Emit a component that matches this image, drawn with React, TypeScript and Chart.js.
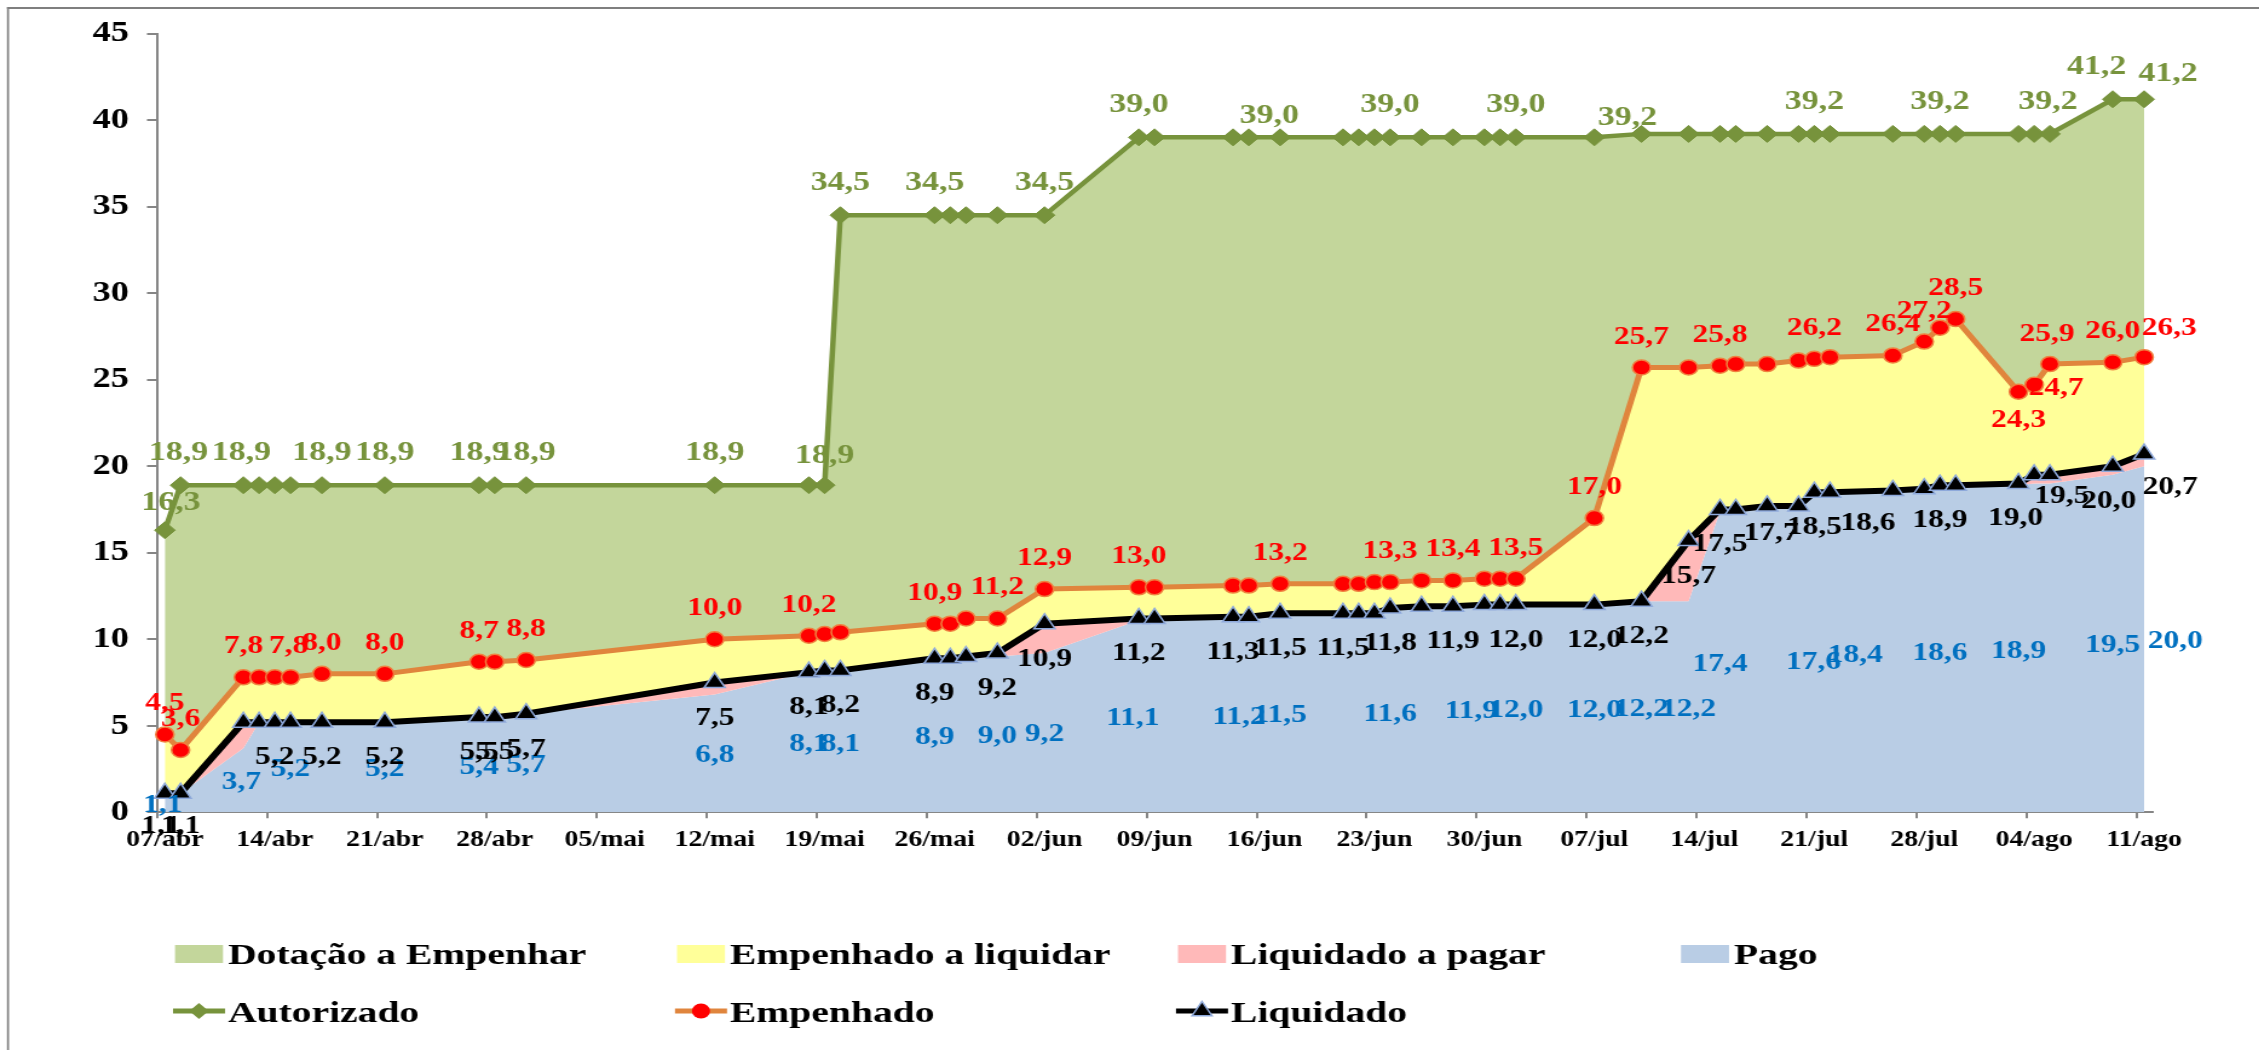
import React, { useEffect, useRef } from 'react';
import { Chart, registerables } from 'chart.js';

Chart.register(...registerables);

// ---------- data ----------
const DATES = ['07/04','08/04','12/04','13/04','14/04','15/04','17/04','21/04','27/04','28/04','30/04',
  '12/05','18/05','19/05','20/05','26/05','27/05','28/05','30/05','02/06',
  '08/06','09/06','14/06','15/06','17/06','21/06','22/06','23/06','24/06','26/06','28/06','30/06','01/07','02/07','07/07',
  '10/07','13/07','15/07','16/07','18/07','20/07','21/07','22/07','26/07','28/07','29/07','30/07','03/08','04/08','05/08','09/08','11/08'];

const TICK_LABELS = ['07/abr','14/abr','21/abr','28/abr','05/mai','12/mai','19/mai','26/mai','02/jun','09/jun',
  '16/jun','23/jun','30/jun','07/jul','14/jul','21/jul','28/jul','04/ago','11/ago'];

const AUTORIZADO = [16.3, 18.9, 18.9, 18.9, 18.9, 18.9, 18.9, 18.9, 18.9, 18.9, 18.9,
  18.9, 18.9, 18.9, 34.5, 34.5, 34.5, 34.5, 34.5, 34.5,
  39.0, 39.0, 39.0, 39.0, 39.0, 39.0, 39.0, 39.0, 39.0, 39.0, 39.0, 39.0, 39.0, 39.0, 39.0,
  39.2, 39.2, 39.2, 39.2, 39.2, 39.2, 39.2, 39.2, 39.2, 39.2, 39.2, 39.2, 39.2, 39.2, 39.2, 41.2, 41.2];

const EMPENHADO = [4.5, 3.6, 7.8, 7.8, 7.8, 7.8, 8.0, 8.0, 8.7, 8.7, 8.8,
  10.0, 10.2, 10.3, 10.4, 10.9, 10.9, 11.2, 11.2, 12.9,
  13.0, 13.0, 13.1, 13.1, 13.2, 13.2, 13.2, 13.3, 13.3, 13.4, 13.4, 13.5, 13.5, 13.5, 17.0,
  25.7, 25.7, 25.8, 25.9, 25.9, 26.1, 26.2, 26.3, 26.4, 27.2, 28.0, 28.5, 24.3, 24.7, 25.9, 26.0, 26.3];

const LIQUIDADO = [1.1, 1.1, 5.2, 5.2, 5.2, 5.2, 5.2, 5.2, 5.5, 5.5, 5.7,
  7.5, 8.1, 8.2, 8.2, 8.9, 8.9, 9.0, 9.2, 10.9,
  11.2, 11.2, 11.3, 11.3, 11.5, 11.5, 11.5, 11.5, 11.8, 11.9, 11.9, 12.0, 12.0, 12.0, 12.0,
  12.2, 15.7, 17.5, 17.5, 17.7, 17.7, 18.5, 18.5, 18.6, 18.7, 18.9, 18.9, 19.0, 19.5, 19.5, 20.0, 20.7];

const PAGO = [1.1, 1.1, 3.7, 5.2, 5.2, 5.2, 5.2, 5.2, 5.4, 5.5, 5.7,
  6.8, 8.1, 8.1, 8.1, 8.9, 8.9, 9.0, 9.0, 9.2,
  11.1, 11.2, 11.2, 11.3, 11.5, 11.5, 11.5, 11.5, 11.6, 11.9, 11.9, 11.9, 12.0, 12.0, 12.0,
  12.2, 12.2, 17.4, 17.5, 17.6, 17.6, 18.4, 18.5, 18.6, 18.6, 18.6, 18.9, 18.9, 19.0, 19.0, 19.5, 20.0];

// which points carry a value label: [date, dx, dy]
const LBL_AUTORIZADO: any[] = [['07/04', 6, -20], ['08/04', -2], ['12/04', -2], ['17/04'], ['21/04'], ['27/04'], ['30/04'],
  ['12/05'], ['19/05', 0, -22], ['20/05'], ['26/05'], ['02/06'], ['08/06'], ['17/06', -11, -14], ['24/06'], ['02/07'],
  ['10/07', -14, -9], ['21/07'], ['29/07'], ['05/08', -2], ['09/08', -16], ['11/08', 24, -18]];
const LBL_EMPENHADO: any[] = [['07/04'], ['08/04'], ['12/04'], ['15/04', -2], ['17/04'], ['21/04'], ['27/04'], ['30/04'],
  ['12/05'], ['18/05'], ['26/05'], ['30/05'], ['02/06'], ['08/06'], ['17/06'], ['24/06'], ['28/06'], ['02/07'], ['07/07'],
  ['10/07'], ['15/07'], ['21/07'], ['26/07'], ['28/07'], ['30/07'], ['03/08', 0, 35], ['04/08', 22, 10], ['05/08', -3, -23],
  ['09/08'], ['11/08', 25, -22]];
const LBL_LIQUIDADO: any[] = [['07/04', -4, 40], ['08/04', 0, 40], ['14/04'], ['17/04'], ['21/04'], ['27/04'], ['28/04'], ['30/04'],
  ['12/05'], ['18/05'], ['20/05'], ['26/05'], ['30/05'], ['02/06'], ['08/06'], ['14/06'], ['17/06'], ['21/06'], ['24/06'],
  ['28/06'], ['02/07'], ['07/07'], ['10/07'], ['13/07'], ['15/07'], ['18/07', 4, 34], ['21/07'], ['26/07', -25, 40], ['29/07'],
  ['03/08', -3], ['05/08', 12, 28], ['09/08', -4], ['11/08', 26, 40]];
const LBL_PAGO: any[] = [['07/04', -2], ['12/04', -2], ['15/04'], ['21/04'], ['27/04'], ['30/04'], ['12/05'], ['18/05'], ['20/05'],
  ['26/05'], ['30/05'], ['02/06'], ['08/06', -6], ['14/06', 6], ['17/06'], ['24/06'], ['30/06', -13], ['02/07'], ['07/07'],
  ['10/07'], ['13/07'], ['15/07'], ['20/07', 15], ['21/07', 41], ['29/07'], ['03/08'], ['09/08'], ['11/08', 31]];

// ---------- styling ----------
const S = 1.21; // horizontal stretch of the picture
const CANVAS_W = Math.round(2259 / S);
const CANVAS_H = 1050;
const FONT = '"Liberation Serif", "Times New Roman", serif';

const GREEN_FILL = '#C3D69B';
const GREEN = '#77933C';
const YELLOW = '#FFFF99';
const ORANGE = '#E0853D';
const RED = '#FF0000';
const PINK = '#FFB9B9';
const BLUE_FILL = '#B9CDE5';
const BLUE_TXT = '#0070C0';
const AXIS = '#868686';

const PLOT_LEFT = 157 / S;
const PLOT_RIGHT = 2152 / S;
const PLOT_TOP = 33.5;
const PLOT_BOTTOM = 812.3;
const X_AXIS_H = 40;

function dayIndex(s: string) {
  const [d, m] = s.split('/').map(Number);
  return Math.round((Date.UTC(2014, m - 1, d) - Date.UTC(2014, 3, 7)) / 86400000);
}
const fmt = (v: number) => v.toFixed(1).replace('.', ',');

const framePlugin = {
  id: 'frame',
  beforeDraw(chart: any) {
    const { ctx, width, height } = chart;
    ctx.save();
    ctx.fillStyle = '#fff';
    ctx.fillRect(0, 0, width, height);
    ctx.fillStyle = '#7f7f7f';
    ctx.fillRect(7 / S, 7, 2 / S, height);
    ctx.fillRect(7 / S, 7, width, 2);
    ctx.restore();
  },
};

const LABEL_SETS = [
  { ds: 0, items: LBL_PAGO, color: BLUE_TXT, size: 26, mid: true, dy: 0 },
  { ds: 1, items: LBL_LIQUIDADO, color: '#000', size: 26, mid: false, dy: 42 },
  { ds: 2, items: LBL_EMPENHADO, color: RED, size: 26, mid: false, dy: -24 },
  { ds: 3, items: LBL_AUTORIZADO, color: GREEN, size: 28, mid: false, dy: -25 },
];

const labelPlugin = {
  id: 'valueLabels',
  afterDatasetsDraw(chart: any) {
    const ctx = chart.ctx;
    const yScale = chart.scales.y;
    ctx.save();
    ctx.textAlign = 'center';
    ctx.textBaseline = 'alphabetic';
    for (const set of LABEL_SETS) {
      const meta = chart.getDatasetMeta(set.ds);
      const data = chart.data.datasets[set.ds].data;
      ctx.font = `bold ${set.size}px ${FONT}`;
      ctx.fillStyle = set.color;
      for (const item of set.items) {
        const i = DATES.indexOf(item[0]);
        if (i < 0) continue;
        const dx = item[1] ?? 0;
        const dy = item[2] ?? set.dy;
        const el = meta.data[i];
        const v = data[i].y;
        const y = set.mid ? yScale.getPixelForValue(v / 2) + 0.338 * set.size : el.y + dy;
        ctx.fillText(fmt(v), el.x + dx / S, y);
      }
    }
    ctx.restore();
  },
};

const LEGEND_ITEMS = [
  { text: 'Dotação a Empenhar', kind: 'box', color: GREEN_FILL, col: 0, row: 0 },
  { text: 'Empenhado a liquidar', kind: 'box', color: YELLOW, col: 1, row: 0 },
  { text: 'Liquidado a pagar', kind: 'box', color: PINK, col: 2, row: 0 },
  { text: 'Pago', kind: 'box', color: BLUE_FILL, col: 3, row: 0 },
  { text: 'Autorizado', kind: 'diamond', color: GREEN, col: 0, row: 1 },
  { text: 'Empenhado', kind: 'circle', color: ORANGE, col: 1, row: 1 },
  { text: 'Liquidado', kind: 'triangle', color: '#000', col: 2, row: 1 },
];
const LEGEND_COL_X = [175, 677, 1178, 1681];
const LEGEND_ROW_Y = [954, 1011];
const LEGEND_BASE = [964, 1022];

const legendPlugin = {
  id: 'customLegend',
  afterDraw(chart: any) {
    const ctx = chart.ctx;
    ctx.save();
    for (const it of LEGEND_ITEMS) {
      const x0 = LEGEND_COL_X[it.col];
      const cy = LEGEND_ROW_Y[it.row];
      if (it.kind === 'box') {
        ctx.fillStyle = it.color;
        ctx.fillRect(x0 / S, cy - 9, 48 / S, 18);
      } else {
        ctx.strokeStyle = it.color;
        ctx.lineWidth = 5;
        ctx.beginPath();
        ctx.moveTo((x0 - 2) / S, cy);
        ctx.lineTo((x0 + 50) / S, cy);
        ctx.stroke();
        const mx = (x0 + 24) / S;
        ctx.beginPath();
        if (it.kind === 'diamond') {
          ctx.fillStyle = GREEN;
          ctx.moveTo(mx, cy - 8); ctx.lineTo(mx + 8, cy); ctx.lineTo(mx, cy + 8); ctx.lineTo(mx - 8, cy);
          ctx.closePath(); ctx.fill();
        } else if (it.kind === 'circle') {
          ctx.fillStyle = RED;
          ctx.arc(mx, cy, 7.5, 0, Math.PI * 2);
          ctx.fill();
        } else {
          ctx.fillStyle = '#000';
          ctx.strokeStyle = '#8EA9DB';
          ctx.lineWidth = 1.5;
          ctx.moveTo(mx, cy - 9.5); ctx.lineTo(mx + 8.2, cy + 4.75); ctx.lineTo(mx - 8.2, cy + 4.75);
          ctx.closePath(); ctx.fill(); ctx.stroke();
        }
      }
      ctx.fillStyle = '#000';
      ctx.font = `bold 30px ${FONT}`;
      ctx.textAlign = 'left';
      ctx.textBaseline = 'alphabetic';
      ctx.save();
      ctx.translate((x0 + 53) / S, LEGEND_BASE[it.row]);
      ctx.scale(1.09, 1);
      ctx.fillText(it.text, 0, 0);
      ctx.restore();
    }
    ctx.restore();
  },
};

export default function App() {
  const ref = useRef<HTMLCanvasElement>(null);
  useEffect(() => {
    const canvas = ref.current;
    if (!canvas) return;
    const xs = DATES.map(dayIndex);
    const pts = (vals: number[]) => vals.map((v, i) => ({ x: xs[i], y: v }));
    const pxPerDay = (PLOT_RIGHT - PLOT_LEFT) / 127;
    const chart = new Chart(canvas, {
      type: 'line',
      data: {
        datasets: [
          {
            label: 'Pago', data: pts(PAGO), borderColor: 'rgba(0,0,0,0)', borderWidth: 0, pointRadius: 0,
            backgroundColor: BLUE_FILL, fill: 'origin', order: 3,
          },
          {
            label: 'Liquidado', data: pts(LIQUIDADO), borderColor: '#000', borderWidth: 6, backgroundColor: PINK, fill: 0,
            pointStyle: 'triangle', pointRadius: 10, pointBackgroundColor: '#000', pointBorderColor: '#8EA9DB',
            pointBorderWidth: 1.5, order: 0, clip: false,
          },
          {
            label: 'Empenhado', data: pts(EMPENHADO), borderColor: ORANGE, borderWidth: 5, backgroundColor: YELLOW, fill: 1,
            pointStyle: 'circle', pointRadius: 7.5, pointBackgroundColor: RED, pointBorderColor: '#F08040',
            pointBorderWidth: 1.5, order: 1, clip: false,
          },
          {
            label: 'Autorizado', data: pts(AUTORIZADO), borderColor: GREEN, borderWidth: 4.5, backgroundColor: GREEN_FILL, fill: 2,
            pointStyle: 'rectRot', pointRadius: 8.5, pointBackgroundColor: GREEN, pointBorderColor: GREEN,
            pointBorderWidth: 1, order: 2, clip: false,
          },
        ] as any,
      },
      options: {
        responsive: false,
        maintainAspectRatio: false,
        animation: false,
        devicePixelRatio: 1,
        events: [],
        layout: {
          padding: {
            left: 0,
            right: CANVAS_W - PLOT_RIGHT,
            top: PLOT_TOP,
            bottom: CANVAS_H - PLOT_BOTTOM - X_AXIS_H,
          },
        },
        elements: { line: { tension: 0, borderJoinStyle: 'round' } },
        plugins: {
          legend: { display: false },
          tooltip: { enabled: false },
          filler: { drawTime: 'beforeDatasetsDraw' },
        } as any,
        scales: {
          x: {
            type: 'linear',
            min: -0.5,
            max: 126.5,
            afterBuildTicks: (axis: any) => {
              axis.ticks = TICK_LABELS.map((_, k) => ({ value: -0.5 + 7 * k }));
            },
            afterFit: (axis: any) => { axis.height = X_AXIS_H; },
            ticks: {
              autoSkip: false,
              maxRotation: 0,
              minRotation: 0,
              labelOffset: pxPerDay / 2,
              padding: 8,
              color: '#000',
              font: { family: FONT, size: 23, weight: 'bold' },
              callback: (_v: any, i: number) => TICK_LABELS[i] ?? '',
            },
            grid: { drawOnChartArea: false, drawTicks: true, tickLength: 6, color: AXIS, lineWidth: 2 },
            border: { display: true, color: AXIS, width: 2 },
          },
          y: {
            min: 0,
            max: 45,
            afterFit: (axis: any) => { axis.width = PLOT_LEFT; },
            ticks: {
              stepSize: 5,
              padding: 15,
              color: '#000',
              font: { family: FONT, size: 30, weight: 'bold' },
            },
            grid: { drawOnChartArea: false, drawTicks: true, tickLength: 10 / S, color: AXIS, lineWidth: 2 },
            border: { display: true, color: AXIS, width: 2 },
          },
        } as any,
      },
      plugins: [framePlugin, labelPlugin, legendPlugin],
    } as any);
    return () => chart.destroy();
  }, []);

  return (
    <div style={{ position: 'fixed', left: 0, top: 0, width: 2259, height: 1050, overflow: 'hidden', background: '#fff' }}>
      <canvas
        ref={ref}
        width={CANVAS_W}
        height={CANVAS_H}
        style={{ position: 'absolute', left: 0, top: 0, transform: `scaleX(${S})`, transformOrigin: '0 0' }}
      />
    </div>
  );
}
